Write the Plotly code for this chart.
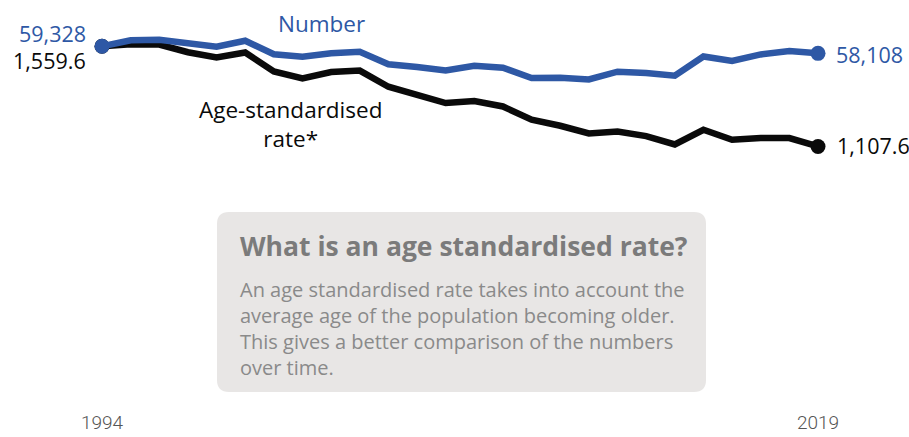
import plotly.graph_objects as go

years = list(range(1994, 2020))
number = [59328, 60359, 60445, 59844, 59243, 60273, 57956, 57527, 58128, 58385,
          56240, 55759, 55176, 55982, 55639, 53872, 53923, 53631, 54953, 54729,
          54266, 57578, 56789, 57922, 58504, 58108]
rate = [1559.6, 1568.5, 1567.1, 1532.4, 1508.5, 1531.5, 1445.8, 1414.2, 1443.5, 1449.8,
        1376.8, 1342.9, 1303.2, 1312.2, 1287.9, 1227.9, 1200.8, 1166.1, 1175.1, 1154.4,
        1116.5, 1182.8, 1137.7, 1145.4, 1145.4, 1107.6]
tick_years = [1994, 2019]
series_names = ["Number", "Age-standardised<br>rate*"]
box_title = "What is an age standardised rate?"
box_lines = ["An age standardised rate takes into account the",
             "average age of the population becoming older.",
             "This gives a better comparison of the numbers",
             "over time."]

BLUE = "#2E58A5"
BLACK = "#0A0A0A"
W, H = 909, 437
L, R, T, B = 102, 91, 10, 45
pw, ph = W - L - R, H - T - B

def px(x):
    return (x - L) / pw

def py(y):
    return (H - B - y) / ph

rate_top = 1723.0
num_top = rate_top * number[0] / rate[0]

fig = go.Figure()
fig.add_trace(go.Scatter(x=years, y=rate, mode="lines", line=dict(color=BLACK, width=6.5),
                         yaxis="y", cliponaxis=False, hoverinfo="skip"))
fig.add_trace(go.Scatter(x=[years[0], years[-1]], y=[rate[0], rate[-1]], mode="markers",
                         marker=dict(color=BLACK, size=15), yaxis="y", cliponaxis=False))
fig.add_trace(go.Scatter(x=years, y=number, mode="lines", line=dict(color=BLUE, width=6.5),
                         yaxis="y2", cliponaxis=False, hoverinfo="skip"))
fig.add_trace(go.Scatter(x=[years[0], years[-1]], y=[number[0], number[-1]], mode="markers",
                         marker=dict(color=BLUE, size=15), yaxis="y2", cliponaxis=False))

fnt = "Open Sans"
ann = []
ann.append(dict(x=years[0], y=number[0], xref="x", yref="y2", text=f"{number[0]:,}",
                xanchor="right", yanchor="middle", xshift=-14, yshift=13, showarrow=False,
                font=dict(color=BLUE, size=21.5, family=fnt)))
ann.append(dict(x=years[0], y=rate[0], xref="x", yref="y", text=f"{rate[0]:,.1f}",
                xanchor="right", yanchor="middle", xshift=-14, yshift=-14, showarrow=False,
                font=dict(color=BLACK, size=21.5, family=fnt)))
ann.append(dict(x=years[-1], y=number[-1], xref="x", yref="y2", text=f"{number[-1]:,}",
                xanchor="left", yanchor="middle", xshift=16, yshift=-1, showarrow=False,
                font=dict(color=BLUE, size=21.5, family=fnt)))
ann.append(dict(x=years[-1], y=rate[-1], xref="x", yref="y", text=f"{rate[-1]:,.1f}",
                xanchor="left", yanchor="middle", xshift=17, yshift=1, showarrow=False,
                font=dict(color=BLACK, size=21.5, family=fnt)))
ann.append(dict(x=px(321), y=py(24), xref="paper", yref="paper", text=series_names[0],
                xanchor="center", yanchor="middle", showarrow=False,
                font=dict(color=BLUE, size=22.5, family=fnt)))
ann.append(dict(x=px(290), y=py(124), xref="paper", yref="paper", text=series_names[1],
                xanchor="center", yanchor="middle", showarrow=False, align="center",
                font=dict(color=BLACK, size=22.5, family=fnt)))
ann.append(dict(x=px(238), y=py(246), xref="paper", yref="paper", text=f"<b>{box_title}</b>",
                xanchor="left", yanchor="middle", showarrow=False,
                font=dict(color="#7B7B7B", size=26.5, family=fnt)))
for i, line in enumerate(box_lines):
    ann.append(dict(x=px(238), y=py(289 + 26.3 * i), xref="paper", yref="paper", text=line,
                    xanchor="left", yanchor="middle", showarrow=False,
                    font=dict(color="#8A8A8A", size=20, family=fnt)))

# rounded box
x0, x1, y0, y1, r = 217, 706, 212, 392, 12
rx, ry = r / pw, r / ph
X0, X1, Y0, Y1 = px(x0), px(x1), py(y1), py(y0)
path = (f"M {X0+rx},{Y0} L {X1-rx},{Y0} Q {X1},{Y0} {X1},{Y0+ry} "
        f"L {X1},{Y1-ry} Q {X1},{Y1} {X1-rx},{Y1} L {X0+rx},{Y1} Q {X0},{Y1} {X0},{Y1-ry} "
        f"L {X0},{Y0+ry} Q {X0},{Y0} {X0+rx},{Y0} Z")

fig.update_layout(
    width=W, height=H,
    margin=dict(l=L, r=R, t=T, b=B, autoexpand=False),
    paper_bgcolor="white", plot_bgcolor="white",
    showlegend=False,
    xaxis=dict(range=[years[0], years[-1]], tickvals=tick_years, ticktext=[str(t) for t in tick_years],
               showgrid=False, zeroline=False, showline=False, ticks="",
               automargin=False, ticklabelstandoff=17,
               tickfont=dict(color="#555555", size=19, family="Roboto", weight=300)),
    yaxis=dict(range=[0, rate_top], visible=False, showgrid=False, automargin=False),
    yaxis2=dict(range=[0, num_top], visible=False, overlaying="y", showgrid=False, automargin=False),
    shapes=[dict(type="path", path=path, xref="paper", yref="paper", fillcolor="#E8E6E5",
                 line=dict(width=0), layer="below")],
    annotations=ann,
)

fig.write_html("out.html", config={"displayModeBar": False},
               post_script="document.body.style.margin='0';document.body.style.overflow='hidden';")
